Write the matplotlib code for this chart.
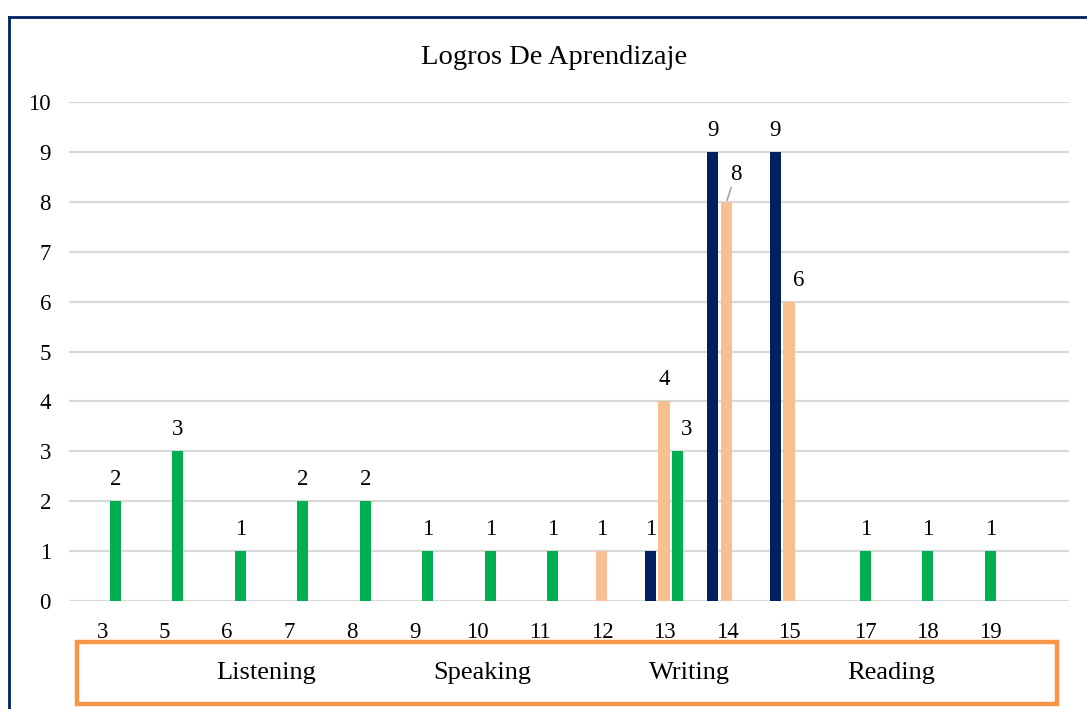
import matplotlib
matplotlib.use("Agg")
import matplotlib.pyplot as plt
from matplotlib.patches import Rectangle, Patch
from matplotlib.lines import Line2D
import numpy as np

plt.rcParams['font.family'] = ['Liberation Serif', 'DejaVu Serif']

categories = ["3", "5", "6", "7", "8", "9", "10", "11", "12", "13", "14", "15", "17", "18", "19"]
navy_vals = [0, 0, 0, 0, 0, 0, 0, 0, 0, 1, 9, 9, 0, 0, 0]
peach_vals = [0, 0, 0, 0, 0, 0, 0, 0, 1, 4, 8, 6, 0, 0, 0]
green_vals = [2, 3, 1, 2, 2, 1, 1, 1, 0, 3, 0, 0, 1, 1, 1]
legend_labels = ["Listening", "Speaking", "Writing", "Reading"]
title = "Logros De Aprendizaje"

NAVY = "#002060"
PEACH = "#F8C090"
GREEN = "#00B050"
ORANGE = "#F79646"

W, H = 1087, 709
fig = plt.figure(figsize=(W / 100, H / 100), dpi=100)

# axes position in pixels
x0, x1 = 69, 1069
y_top, y_bot = 102, 601
ax = fig.add_axes([x0 / W, 1 - y_bot / H, (x1 - x0) / W, (y_bot - y_top) / H])

n_slots = 16  # 15 categories plus an empty trailing slot
x = np.arange(len(categories))
bw = 0.18
offsets = {"navy": -0.20, "peach": 0.02, "green": 0.24}
series = [("navy", navy_vals, NAVY), ("peach", peach_vals, PEACH), ("green", green_vals, GREEN)]

# label adjustments in pixels (dx, dy above bar top to baseline), leader flag
label_shift = {("peach", 10): (9, 22, True), ("peach", 11): (10, 16, False),
               ("green", 9): (9, 16, False)}

LBL = 16.5
for key, vals, col in series:
    vals = np.array(vals, dtype=float)
    mask = vals > 0
    ax.bar(x[mask] + offsets[key], vals[mask], width=bw, color=col, zorder=3)
    for xi, v in zip(x[mask], vals[mask]):
        xb = xi + offsets[key]
        dxp, dyp, leader = label_shift.get((key, xi), (0, 16, False))
        kw = dict(xy=(xb, v), xytext=(dxp * 0.72, dyp * 0.72), textcoords="offset points",
                  ha="center", va="baseline", fontsize=LBL, color="#000000")
        if leader:
            kw["arrowprops"] = dict(arrowstyle="-", color="#a6a6a6", lw=1.2,
                                    shrinkA=0, shrinkB=1)
        ax.annotate(f"{int(v)}", **kw)

ax.set_xlim(-0.5, n_slots - 0.5)
ax.set_ylim(0, 10)
ax.set_yticks(range(0, 11))
ax.yaxis.grid(True, color="#d9d9d9", linewidth=1.6, zorder=0)
ax.set_axisbelow(True)
for s in ax.spines.values():
    s.set_visible(False)
ax.tick_params(axis="y", length=0, pad=13, labelsize=LBL)
ax.tick_params(axis="x", length=0, pad=15, labelsize=LBL)

tick_pos = [xi + (0.24 if xi >= 12 else 0.03) for xi in x]
ax.set_xticks(tick_pos)
ax.set_xticklabels(categories)

# title
fig.text(554 / W, 1 - 57 / H, title, ha="center", va="center", fontsize=20.5)

# legend box
box = Rectangle((77 / W, 1 - 704 / H), (1057 - 77) / W, (704 - 642) / H,
                transform=fig.transFigure, fill=False, edgecolor=ORANGE, linewidth=3.2)
fig.add_artist(box)
handles = [Patch(facecolor="none", edgecolor="none", label=l) for l in legend_labels]
leg = fig.legend(handles=handles, loc="center", bbox_to_anchor=(553 / W, 1 - 672 / H),
                 ncol=4, frameon=False, fontsize=19, handlelength=1.2,
                 columnspacing=2.75, handletextpad=0.5)

# navy figure frame (top and left)
fig.add_artist(Line2D([9 / W, 1.0], [1 - 17 / H, 1 - 17 / H], transform=fig.transFigure,
                      color=NAVY, linewidth=2))
fig.add_artist(Line2D([9 / W, 9 / W], [0.0, 1 - 17 / H], transform=fig.transFigure,
                      color=NAVY, linewidth=2))

fig.savefig("out.png", dpi=100)
